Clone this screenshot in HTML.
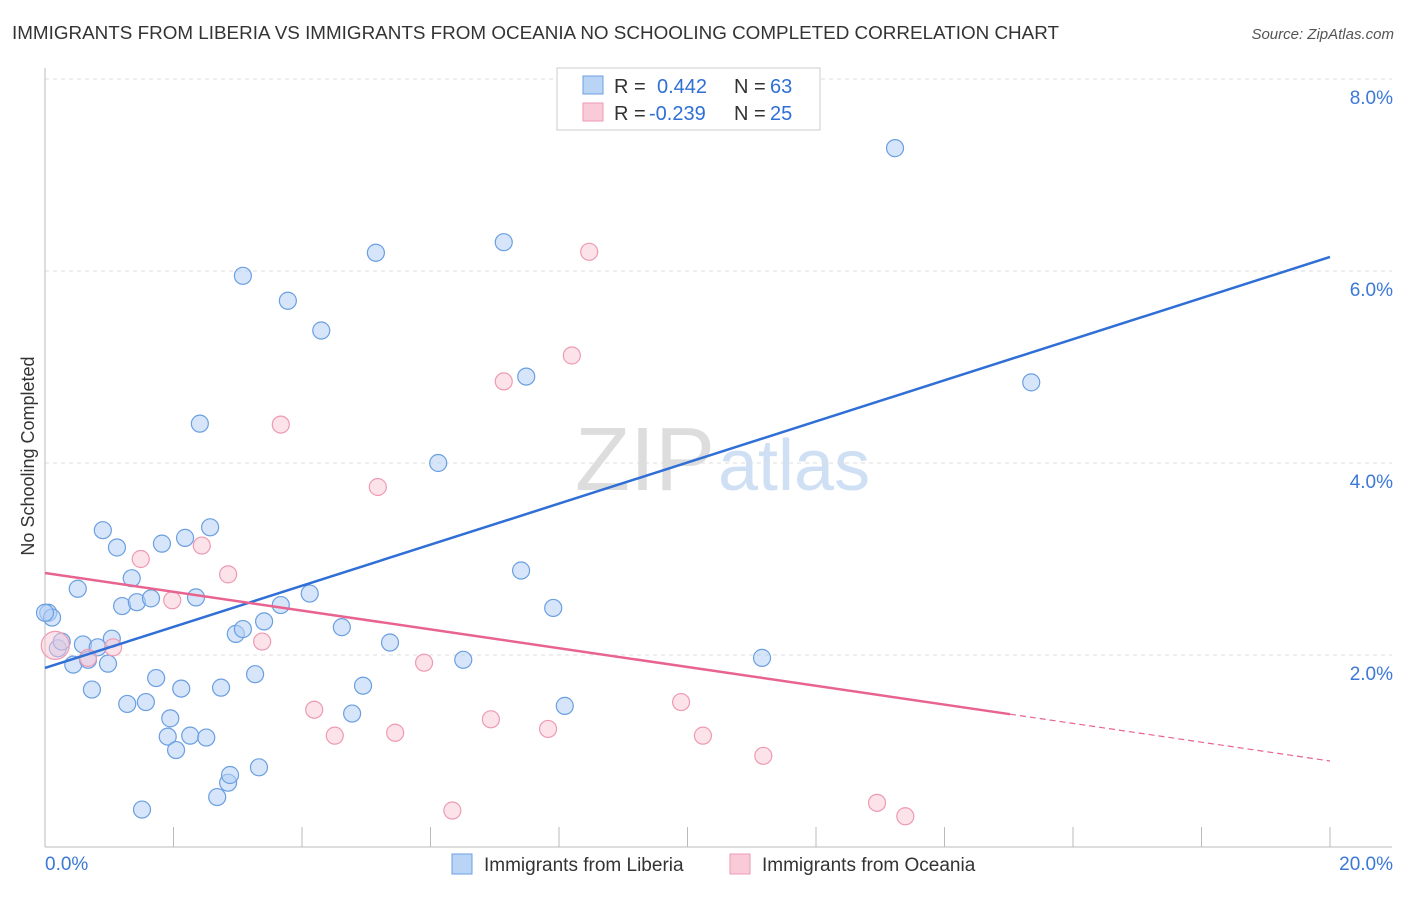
<!DOCTYPE html>
<html><head><meta charset="utf-8"><style>
body{margin:0;background:#fff;font-family:"Liberation Sans",sans-serif;}
svg text{font-family:"Liberation Sans",sans-serif;}
</style></head><body>
<svg id="chart" width="1406" height="892">
<text x="12" y="39" font-size="18" fill="#333" textLength="1047" lengthAdjust="spacingAndGlyphs">IMMIGRANTS FROM LIBERIA VS IMMIGRANTS FROM OCEANIA NO SCHOOLING COMPLETED CORRELATION CHART</text>
<text x="1394" y="39" font-size="15" fill="#555" font-style="italic" text-anchor="end">Source: ZipAtlas.com</text>
<text x="715" y="490" font-size="90" fill="#ddd" text-anchor="end" font-family="Liberation Serif">ZIP</text>
<text x="718" y="490" font-size="72" fill="#cfe0f5">atlas</text>
<g id="grid"></g><g id="axes"></g><g id="marks"></g>
<text transform="translate(34,456) rotate(-90)" font-size="18" fill="#333" text-anchor="middle">No Schooling Completed</text>
<g>
<rect x="557" y="68" width="263" height="62" fill="#fff" stroke="#ccc"/>
<rect x="583" y="76" width="20" height="18" fill="#b9d4f5" stroke="#6a9fe0"/>
<rect x="583" y="103" width="20" height="18" fill="#f9cbd8" stroke="#ee9ab3"/>
<text y="93" font-size="20" fill="#333"><tspan x="614">R =</tspan><tspan x="657" fill="#2f6fd6">0.442</tspan><tspan x="734">N =</tspan><tspan x="770" fill="#2f6fd6">63</tspan></text>
<text y="120" font-size="20" fill="#333"><tspan x="614">R =</tspan><tspan x="649" fill="#2f6fd6">-0.239</tspan><tspan x="734">N =</tspan><tspan x="770" fill="#2f6fd6">25</tspan></text>
</g>
<g>
<rect x="452" y="854" width="20" height="20" fill="#b9d4f5" stroke="#6a9fe0"/>
<text x="484" y="871" font-size="19" fill="#333">Immigrants from Liberia</text>
<rect x="730" y="854" width="20" height="20" fill="#f9cbd8" stroke="#ee9ab3"/>
<text x="762" y="871" font-size="19" fill="#333">Immigrants from Oceania</text>
</g>
</svg>
<script>
const yTicks=[2,4,6,8];
const yTickLabels=["2.0%","4.0%","6.0%","8.0%"];
const liberiaX=[0.05,0.11,0.2,0.26,0.44,0.51,0.59,0.67,0.73,0.82,0.9,0.98,1.04,1.12,1.2,1.28,1.35,1.43,1.57,1.65,1.73,1.82,1.95,1.91,2.04,2.12,2.18,2.26,2.35,2.41,2.51,2.57,2.68,2.74,2.85,2.88,2.97,3.08,3.08,3.27,3.33,3.41,3.67,3.78,4.12,4.3,4.62,4.78,4.95,5.15,5.37,6.12,6.51,7.14,7.41,7.49,7.91,8.09,11.16,13.23,15.35,1.51,0];
const liberiaY=[2.44,2.39,2.07,2.14,1.9,2.69,2.11,1.95,1.64,2.08,3.3,1.91,2.17,3.12,2.51,1.49,2.8,2.55,1.51,2.59,1.76,3.16,1.34,1.15,1.01,1.65,3.22,1.16,2.6,4.41,1.14,3.33,0.52,1.66,0.67,0.75,2.22,5.95,2.27,1.8,0.83,2.35,2.52,5.69,2.64,5.38,2.29,1.39,1.68,6.19,2.13,4.0,1.95,6.3,2.88,4.9,2.49,1.47,1.97,7.28,4.84,0.39,2.44];
const oceaniaX=[0.16,1.06,1.49,1.98,2.44,2.85,3.38,3.67,4.19,4.51,5.18,5.45,5.9,6.34,6.94,7.14,7.83,8.2,8.47,9.9,10.24,11.18,12.95,13.39,0.67];
const oceaniaY=[2.1,2.08,3.0,2.57,3.14,2.84,2.14,4.4,1.43,1.16,3.75,1.19,1.92,0.38,1.33,4.85,1.23,5.12,6.2,1.51,1.16,0.95,0.46,0.32,1.97];
const liberiaTrend=[1.865,6.146];
const oceaniaTrend=[2.854,0.896];
const oceaniaSolidEnd=15.02;
const NS="http://www.w3.org/2000/svg";
const X=v=>45+v*64.25, Y=v=>847-v*96;
function mk(t,a,p){const e=document.createElementNS(NS,t);for(const k in a)e.setAttribute(k,a[k]);p.appendChild(e);return e;}
const grid=document.getElementById('grid'),axes=document.getElementById('axes'),marks=document.getElementById('marks');
yTicks.forEach((v,i)=>{
 const l=mk('line',{x1:45,x2:1392,y1:Y(v),y2:Y(v),stroke:'#ddd','stroke-dasharray':'4,4'},grid);
 
 
 const t=mk('text',{x:1393,y:Y(v)+25,'font-size':19,fill:'#3b78d8','text-anchor':'end'},axes);
 t.textContent=yTickLabels[i];
 
 
});
mk('line',{x1:45,x2:45,y1:68,y2:847,stroke:'#bbb'},axes);
mk('line',{x1:45,x2:1392,y1:847,y2:847,stroke:'#bbb'},axes);
for(let i=0;i<=10;i++){mk('line',{x1:X(i*2),x2:X(i*2),y1:827,y2:847,stroke:'#bbb'},axes);}
let t0=mk('text',{x:45,y:870,'font-size':19,fill:'#3b78d8'},axes);t0.textContent='0.0%';


let t1=mk('text',{x:1393,y:870,'font-size':19,fill:'#3b78d8','text-anchor':'end'},axes);t1.textContent='20.0%';


liberiaX.forEach((x,i)=>{
 const c=mk('circle',{cx:X(x),cy:Y(liberiaY[i]),r:8.5,fill:'rgba(180,208,245,0.55)',stroke:'#6a9fe0','stroke-width':1.2},marks);
 
 
});
oceaniaX.forEach((x,i)=>{
 const c=mk('circle',{cx:X(x),cy:Y(oceaniaY[i]),r:i==0?14:8.5,fill:'rgba(249,200,214,0.5)',stroke:'#ee9ab3','stroke-width':1.2},marks);
 
 
});
const bl=mk('line',{x1:X(0),y1:Y(liberiaTrend[0]),x2:X(20),y2:Y(liberiaTrend[1]),stroke:'#2f6fd6','stroke-width':2.5},marks);


const py=x=>oceaniaTrend[0]+(oceaniaTrend[1]-oceaniaTrend[0])*x/20;
const pl=mk('line',{x1:X(0),y1:Y(py(0)),x2:X(oceaniaSolidEnd),y2:Y(py(oceaniaSolidEnd)),stroke:'#e8648f','stroke-width':2.5},marks);


const pd=mk('line',{x1:X(oceaniaSolidEnd),y1:Y(py(oceaniaSolidEnd)),x2:X(20),y2:Y(py(20)),stroke:'#e8648f','stroke-width':1.2,'stroke-dasharray':'6,4'},marks);


</script>
</body></html>
